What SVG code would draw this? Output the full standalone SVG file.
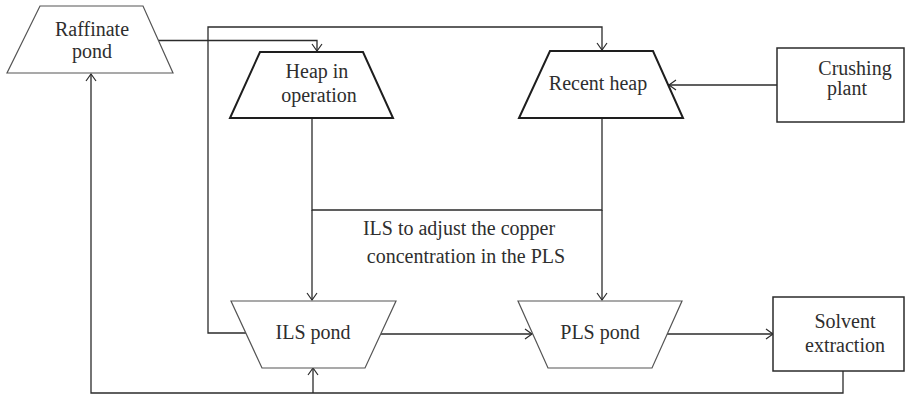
<svg xmlns="http://www.w3.org/2000/svg" width="905" height="396" viewBox="0 0 905 396">
<defs>
<marker id="arr" markerUnits="userSpaceOnUse" markerWidth="14" markerHeight="14" refX="8" refY="6" orient="auto">
<path d="M1,1 L8,6 L1,11" fill="none" stroke="#2b2b2b" stroke-width="1.2"/>
</marker>
<style>
text{font-family:'Liberation Serif','DejaVu Serif',serif;font-size:20px;fill:#2e2e2e;text-anchor:middle}
.pond{fill:#fff;stroke:#555;stroke-width:1.2}
.heap{fill:#fff;stroke:#1e1e1e;stroke-width:2}
.box{fill:#fff;stroke:#2b2b2b;stroke-width:1.5}
.c{fill:none;stroke:#2b2b2b;stroke-width:1.3}
</style>
</defs>
<rect width="905" height="396" fill="#fff"/>
<g id="connectors">
<path class="c" d="M158,40.5 H317 V51" marker-end="url(#arr)"/>
<path class="c" d="M246,333 H208 V27 H602 V50" marker-end="url(#arr)"/>
<path class="c" d="M777,85 H669" marker-end="url(#arr)"/>
<path class="c" d="M312,118 V210 H602 V118"/>
<path class="c" d="M312,210 V300" marker-end="url(#arr)"/>
<path class="c" d="M602,210 V300" marker-end="url(#arr)"/>
<path class="c" d="M381,334 H532" marker-end="url(#arr)"/>
<path class="c" d="M667,334 H773" marker-end="url(#arr)"/>
<path class="c" d="M843,371 V393 H91 V74" marker-end="url(#arr)"/>
<path class="c" d="M313,393 V368" marker-end="url(#arr)"/>
</g>
<g id="raffinate-pond" font-family="Liberation Serif, serif">
<polygon class="pond" points="40,6 143,6 173,73 7,73"/>
<text x="92" y="36">Raffinate</text>
<text x="92" y="58">pond</text>
</g>
<g id="heap-in-operation">
<polygon class="heap" points="260,52 363,52 393,118 230,118"/>
<text x="317" y="78">Heap in</text>
<text x="319" y="102">operation</text>
</g>
<g id="recent-heap">
<polygon class="heap" points="550,51 653,51 683,118 519,118"/>
<text x="598" y="90">Recent heap</text>
</g>
<g id="crushing-plant">
<rect class="box" x="777" y="48" width="127" height="74"/>
<text x="855" y="75">Crushing</text>
<text x="847" y="95">plant</text>
</g>
<g id="adjust-label">
<text x="459" y="235">ILS to adjust the copper</text>
<text x="466" y="263">concentration in the PLS</text>
</g>
<g id="ils-pond">
<polygon class="pond" points="231,301 396,301 365,368 262,368"/>
<text x="313" y="339">ILS pond</text>
</g>
<g id="pls-pond">
<polygon class="pond" points="518,301 682,301 652,368 548,368"/>
<text x="600" y="339">PLS pond</text>
</g>
<g id="solvent-extraction">
<rect class="box" x="773" y="297" width="131" height="74"/>
<text x="845" y="328">Solvent</text>
<text x="845" y="352">extraction</text>
</g>
</svg>
